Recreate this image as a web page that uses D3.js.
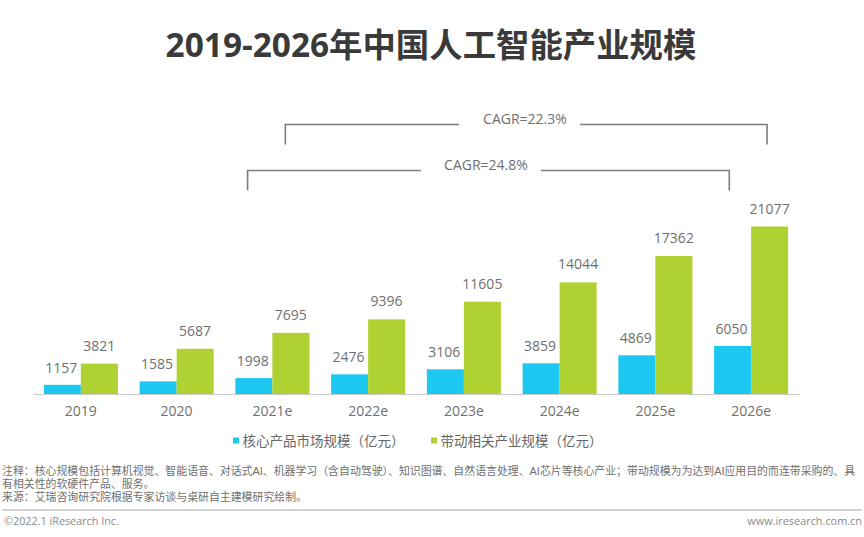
<!DOCTYPE html>
<html>
<head>
<meta charset="utf-8">
<script src="https://cdnjs.cloudflare.com/ajax/libs/d3/7.8.5/d3.min.js"></script>
<style>
  html, body { margin: 0; padding: 0; background: #fff; }
  text { font-family: "Open Sans", "Noto Sans CJK SC", sans-serif; }
</style>
</head>
<body>
<svg id="chart"></svg>
<script>
const categories = ["2019", "2020", "2021e", "2022e", "2023e", "2024e", "2025e", "2026e"];
const coreValues = [1157, 1585, 1998, 2476, 3106, 3859, 4869, 6050];
const relatedValues = [3821, 5687, 7695, 9396, 11605, 14044, 17362, 21077];
const seriesNames = ["核心产品市场规模（亿元）", "带动相关产业规模（亿元）"];
const cagrLabels = ["CAGR=22.3%", "CAGR=24.8%"];
const noteLines = [
  "注释：核心规模包括计算机视觉、智能语音、对话式AI、机器学习（含自动驾驶）、知识图谱、自然语言处理、AI芯片等核心产业；带动规模为为达到AI应用目的而连带采购的、具",
  "有相关性的软硬件产品、服务。",
  "来源：艾瑞咨询研究院根据专家访谈与桌研自主建模研究绘制。"
];

const width = 864;
const height = 537;
const blue = "#1cc7f0";
const green = "#b0d132";
const textGray = "#6f6f6f";

const svg = d3.select("#chart").attr("width", width).attr("height", height)
  .style("display", "block");

// Title
svg.append("text")
  .text("2019-2026年中国人工智能产业规模")
  .attr("x", 431).attr("y", 57)
  .attr("text-anchor", "middle")
  .style("font-size", "33.4px").style("font-weight", 700)
  .style("fill", "#3a3a3a");

const x = d3.scaleBand().domain(categories).range([33, 799]).paddingInner(0.227).paddingOuter(0.1135);
const y = d3.scaleLinear().domain([0, 21077]).range([394, 226.5]);
const barW = x.bandwidth() / 2;

// Bars and value labels, one series at a time
const drawSeries = (values, color, offset, labelDx, labelGap) => {
  svg.append("g").selectAll("rect").data(values).join("rect")
    .attr("x", (d, i) => x(categories[i]) + offset)
    .attr("y", (d) => y(d))
    .attr("width", barW)
    .attr("height", (d) => y(0) - y(d))
    .attr("fill", color);

  svg.append("g").selectAll("text").data(values).join("text")
    .text((d) => d)
    .attr("x", (d, i) => x(categories[i]) + offset + barW / 2 + labelDx)
    .attr("y", (d) => y(d) - labelGap)
    .attr("text-anchor", "middle")
    .style("font-size", "14px")
    .style("fill", textGray);
};
drawSeries(coreValues, blue, 0, -1, 12);
drawSeries(relatedValues, green, barW, 0, 13);

// Axis
const axis = svg.append("g")
  .attr("transform", "translate(0,394)")
  .call(d3.axisBottom(x).tickSize(0).tickPadding(12));
axis.select(".domain").attr("stroke", "#c8c8c8").attr("stroke-width", 1);
axis.selectAll("text").style("font-size", "14px").style("fill", textGray)
  .style("font-family", '"Open Sans", sans-serif');

// CAGR brackets, anchored on the categories they span
const bracket = (fromCat, fromBar, toCat, toBar, top, label, gapL, gapR, labelX) => {
  const x0 = x(fromCat) + fromBar * barW;
  const x1 = x(toCat) + toBar * barW;
  const line = d3.line();
  const g = svg.append("g").attr("fill", "none").attr("stroke", "#7d7d7d").attr("stroke-width", 1.6);
  g.append("path").attr("d", line([[x0, top + 20], [x0, top], [gapL, top]]));
  g.append("path").attr("d", line([[gapR, top], [x1, top], [x1, top + 20]]));
  svg.append("text").text(label)
    .attr("x", labelX).attr("y", top - 0.5)
    .attr("text-anchor", "middle")
    .style("font-size", "14px").style("fill", textGray);
};
bracket("2021e", 1.35, "2026e", 1.43, 124.5, cagrLabels[0], 459, 580, 525);
bracket("2021e", 0.33, "2026e", 0.41, 170.5, cagrLabels[1], 421, 541, 486);

// Legend
const legendX = [233, 431];
legendX.forEach((lx, i) => {
  svg.append("rect").attr("x", lx).attr("y", 437.5).attr("width", 6).attr("height", 6)
    .attr("fill", i === 0 ? blue : green);
  svg.append("text").text(seriesNames[i])
    .attr("x", lx + 9.5).attr("y", 446)
    .style("font-size", "13.5px").style("fill", "#666");
});

// Notes, Liberation Sans first so the tighter line box fits the 13px leading
svg.append("g").selectAll("text").data(noteLines).join("text")
  .text((d) => d)
  .attr("x", 2)
  .attr("y", (d, i) => 475 + i * 13)
  .style("font-family", '"Liberation Sans", "Noto Sans CJK SC", sans-serif')
  .style("font-size", "10.9px")
  .style("fill", textGray);

// Footer
svg.append("line").attr("x1", 2).attr("x2", 862).attr("y1", 510).attr("y2", 510)
  .attr("stroke", "#c4c4c4").attr("stroke-width", 1.6);
svg.append("text").text("©2022.1 iResearch Inc.")
  .attr("x", 4).attr("y", 525)
  .style("font-size", "10.8px").style("fill", "#8a8a8a");
svg.append("text").text("www.iresearch.com.cn")
  .attr("x", 862).attr("y", 525).attr("text-anchor", "end")
  .style("font-size", "10.9px").style("fill", "#8a8a8a");
</script>
</body>
</html>
